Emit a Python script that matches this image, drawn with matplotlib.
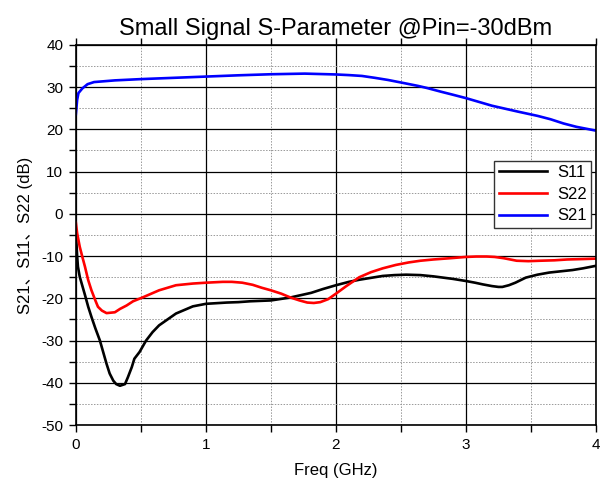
import matplotlib
matplotlib.use('Agg')
import matplotlib.pyplot as plt
from matplotlib.ticker import MultipleLocator

plt.rcParams['font.family'] = ['Liberation Sans', 'Noto Sans CJK SC', 'DejaVu Sans']
plt.rcParams['axes.unicode_minus'] = False

# values
s11_freq = [0.0, 0.01, 0.016, 0.03, 0.07, 0.095, 0.12, 0.15, 0.185, 0.21, 0.236, 0.26, 0.288,
            0.31, 0.339, 0.378, 0.40, 0.43, 0.45, 0.49, 0.54, 0.59, 0.64, 0.77, 0.9, 1.0,
            1.16, 1.25, 1.34, 1.5, 1.65, 1.81, 1.9, 2.0, 2.1, 2.18, 2.36, 2.45, 2.54, 2.65,
            2.75, 2.9, 3.0, 3.07, 3.13, 3.2, 3.25, 3.28, 3.33, 3.38, 3.46, 3.55, 3.64,
            3.73, 3.82, 3.9, 4.0]
s11_db = [-4.5, -10.0, -12.5, -14.9, -19.2, -22.0, -24.4, -27.1, -30.0, -32.7, -35.5, -37.8, -39.5,
          -40.3, -40.7, -40.3, -38.7, -36.3, -34.3, -32.7, -30.0, -28.0, -26.4, -23.6, -21.9, -21.3,
          -21.0, -20.9, -20.7, -20.5, -19.8, -18.7, -17.8, -16.9, -16.1, -15.6, -14.7, -14.5, -14.4, -14.5,
          -14.8, -15.4, -15.9, -16.3, -16.7, -17.1, -17.3, -17.3, -16.9, -16.3, -15.1, -14.4, -13.9,
          -13.6, -13.3, -12.9, -12.3]

s22_freq = [0.0, 0.01, 0.03, 0.05, 0.07, 0.095, 0.12, 0.15, 0.17, 0.2, 0.236, 0.30, 0.34,
            0.39, 0.44, 0.52, 0.64, 0.77, 0.9, 1.0, 1.13, 1.2, 1.28, 1.36, 1.43, 1.5, 1.58,
            1.65, 1.72, 1.78, 1.83, 1.88, 1.94, 2.0, 2.08, 2.18, 2.27, 2.36, 2.46, 2.56,
            2.65, 2.75, 2.88, 3.0, 3.08, 3.16, 3.22, 3.29, 3.34, 3.39, 3.48, 3.57, 3.68,
            3.78, 3.9, 4.0]
s22_db = [-2.1, -4.6, -7.8, -10.2, -12.5, -15.7, -18.1, -20.5, -22.0, -22.9, -23.5, -23.3, -22.5,
          -21.7, -20.7, -19.7, -18.1, -16.9, -16.5, -16.3, -16.1, -16.1, -16.3, -16.8, -17.5, -18.1, -18.9,
          -19.8, -20.5, -21.0, -21.1, -20.9, -20.2, -18.9, -17.1, -15.0, -13.8, -12.9, -12.1, -11.5,
          -11.1, -10.8, -10.5, -10.2, -10.1, -10.1, -10.2, -10.5, -10.8, -11.1, -11.2, -11.1, -11.0,
          -10.8, -10.7, -10.6]

s21_freq = [0.0, 0.01, 0.02, 0.05, 0.09, 0.14, 0.3, 0.5, 0.75, 1.0, 1.25, 1.5, 1.76, 2.0,
            2.1, 2.2, 2.3, 2.4, 2.5, 2.63, 2.7, 2.81, 2.9, 3.0, 3.1, 3.2, 3.3, 3.4, 3.55,
            3.65, 3.75, 3.85, 4.0]
s21_db = [23.6, 27.0, 28.6, 29.7, 30.7, 31.2, 31.6, 31.9, 32.2, 32.5, 32.8, 33.05, 33.2, 33.0,
          32.85, 32.65, 32.2, 31.7, 31.1, 30.3, 29.8, 28.9, 28.2, 27.4, 26.5, 25.6, 24.9, 24.2, 23.2,
          22.4, 21.4, 20.6, 19.7]

fig = plt.figure(figsize=(6.02, 4.88), dpi=100)
ax = fig.add_axes([0.126, 0.129, 0.864, 0.779])

ax.plot(s11_freq, s11_db, color='black', lw=1.9, label='S11', solid_joinstyle='round')
ax.plot(s22_freq, s22_db, color='red', lw=1.9, label='S22', solid_joinstyle='round')
ax.plot(s21_freq, s21_db, color='blue', lw=1.9, label='S21', solid_joinstyle='round')

ax.set_xlim(0, 4)
ax.set_ylim(-50, 40)
ax.xaxis.set_major_locator(MultipleLocator(1))
ax.xaxis.set_minor_locator(MultipleLocator(0.5))
ax.yaxis.set_major_locator(MultipleLocator(10))
ax.yaxis.set_minor_locator(MultipleLocator(5))

ax.grid(True, which='major', color='black', lw=0.9, ls='-')
ax.grid(True, which='minor', color='#999999', lw=0.7, ls=(0, (1.5, 1.5)))
ax.set_axisbelow(True)

ax.tick_params(which='both', direction='out', top=True, right=False,
               labelsize=11, width=1.0, color='black')
ax.tick_params(which='major', length=5, pad=4)
ax.tick_params(which='minor', length=5)
for s in ax.spines.values():
    s.set_linewidth(1.2)

ax.set_title('Small Signal S-Parameter @Pin=-30dBm', fontsize=17, pad=7)
ax.set_xlabel('Freq (GHz)', fontsize=12, labelpad=8)
ax.set_ylabel('S21、S11、S22 (dB)', fontsize=12, labelpad=6)

leg = ax.legend(loc='upper right', bbox_to_anchor=(0.99, 0.695), fontsize=12,
                fancybox=False, framealpha=1, edgecolor='#333333', handlelength=2.9,
                handletextpad=0.6, borderpad=0.25, labelspacing=0.4, borderaxespad=0)
leg.get_frame().set_linewidth(1.0)

fig.savefig('out.png', dpi=100)
